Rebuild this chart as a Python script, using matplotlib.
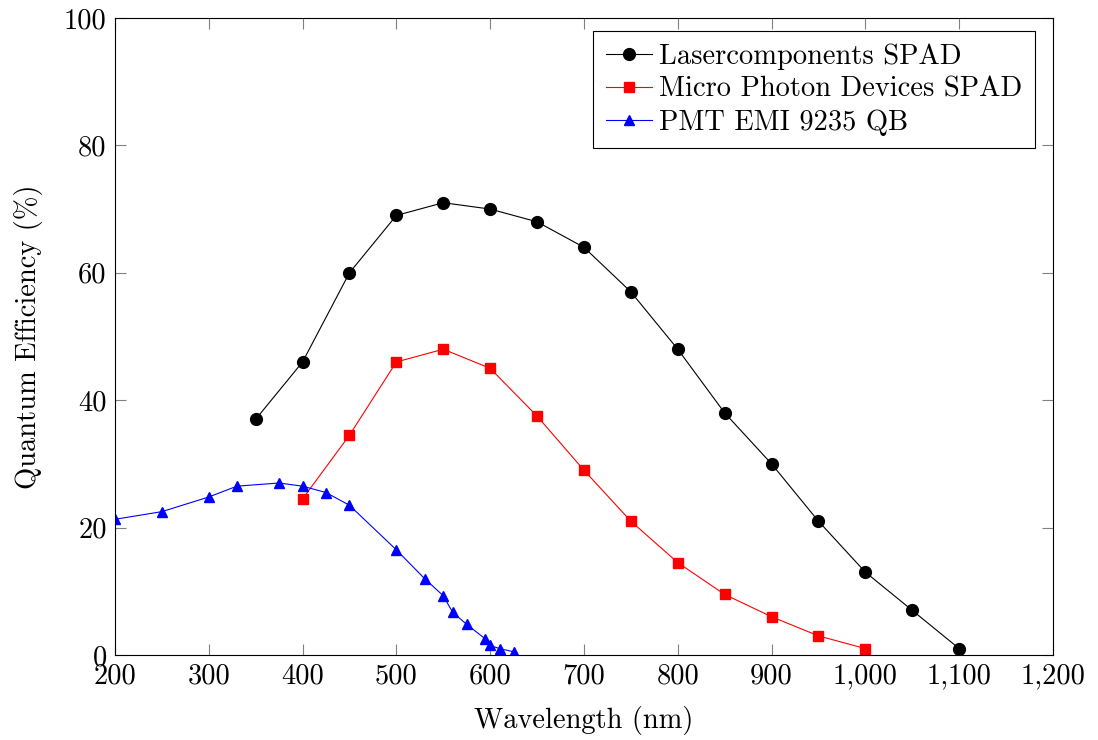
import matplotlib
matplotlib.use("Agg")
import matplotlib.pyplot as plt
from matplotlib.ticker import FuncFormatter, MultipleLocator

plt.rcParams['font.family'] = ['cmr10', 'DejaVu Serif']
plt.rcParams['mathtext.fontset'] = 'cm'
plt.rcParams['axes.formatter.use_mathtext'] = True

# Lasercomponents SPAD
laser_wl = [350, 400, 450, 500, 550, 600, 650, 700, 750, 800, 850, 900, 950, 1000, 1050, 1100]
laser_qe = [37, 46, 60, 69, 71, 70, 68, 64, 57, 48, 38, 30, 21, 13, 7, 1]

# Micro Photon Devices SPAD
mpd_wl = [400, 450, 500, 550, 600, 650, 700, 750, 800, 850, 900, 950, 1000]
mpd_qe = [24.5, 34.5, 46, 48, 45, 37.5, 29, 21, 14.5, 9.5, 6, 3, 1]

# PMT EMI 9235 QB
pmt_wl = [200, 250, 300, 330, 375, 400, 425, 450, 500, 530, 550, 560, 575, 595, 600, 610, 625]
pmt_qe = [21.3, 22.5, 24.8, 26.5, 27, 26.5, 25.5, 23.5, 16.5, 12, 9.3, 6.7, 4.8, 2.5, 1.5, 1, 0.5]

fig = plt.figure(figsize=(10.98, 7.40), dpi=100)
ax = fig.add_axes([0.1047, 0.1149, 0.8543, 0.8608])

fs = 20.5
ax.plot(laser_wl, laser_qe, color='black', lw=0.8, marker='o', ms=8.5,
        label='Lasercomponents SPAD')
ax.plot(mpd_wl, mpd_qe, color='red', lw=0.8, marker='s', ms=7.5,
        label='Micro Photon Devices SPAD')
ax.plot(pmt_wl, pmt_qe, color='blue', lw=0.8, marker='^', ms=7.5,
        label='PMT EMI 9235 QB')

ax.set_xlim(200, 1200)
ax.set_ylim(0, 100)
ax.xaxis.set_major_locator(MultipleLocator(100))
ax.yaxis.set_major_locator(MultipleLocator(20))
ax.xaxis.set_major_formatter(FuncFormatter(lambda v, p: f"{v:,.0f}"))
ax.yaxis.set_major_formatter(FuncFormatter(lambda v, p: f"{v:.0f}"))

ax.tick_params(axis='both', which='major', direction='in', length=8,
               width=0.8, color='#808080', top=True, right=True,
               labelsize=fs, pad=6)
for s in ax.spines.values():
    s.set_linewidth(0.8)
    s.set_color('black')

ax.set_xlabel('Wavelength (nm)', fontsize=fs)
ax.set_ylabel('Quantum Efficiency (%)', fontsize=fs)
ax.xaxis.set_label_coords(0.5, -0.080)
ax.yaxis.set_label_coords(-0.077, 0.5)

leg = ax.legend(loc='upper right', bbox_to_anchor=(0.9808, 0.9796),
                borderaxespad=0, fontsize=fs, fancybox=False,
                edgecolor='black', framealpha=1, handlelength=1.6,
                handletextpad=0.25, labelspacing=0.22, borderpad=0.45)
leg.get_frame().set_linewidth(0.8)

fig.savefig('out.png', dpi=100)
